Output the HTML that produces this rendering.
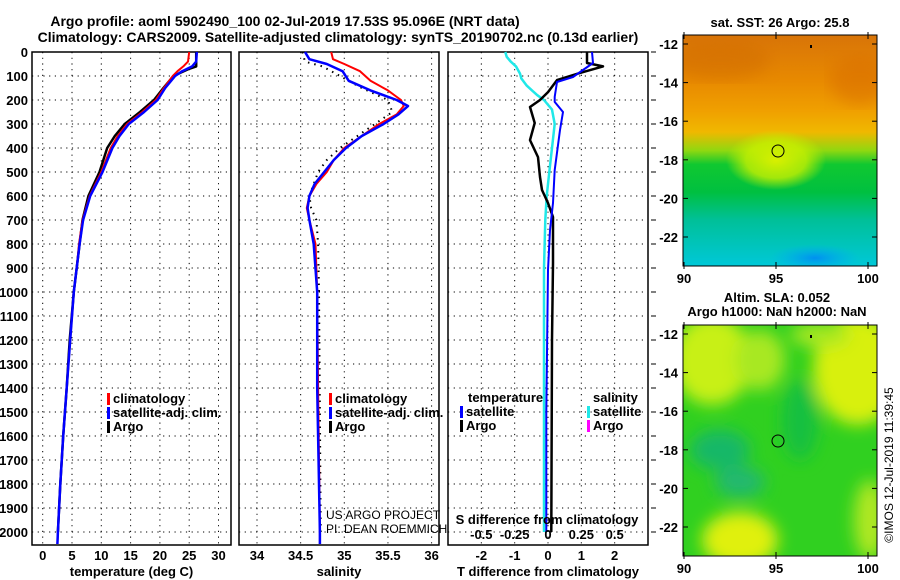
<!DOCTYPE html>
<html><head><meta charset="utf-8"><style>
html,body{margin:0;padding:0;background:#fff;}
svg{display:block;font-family:"Liberation Sans",sans-serif;}
.b{font-weight:bold;font-size:13px;}
.t{font-weight:bold;font-size:14px;}
</style></head><body>
<svg id="c" width="900" height="580" viewBox="0 0 900 580" xmlns="http://www.w3.org/2000/svg">
<defs>
<linearGradient id="sstg" x1="0" y1="0" x2="0" y2="1">
<stop offset="0" stop-color="#d87408"/><stop offset="0.2" stop-color="#e88a00"/><stop offset="0.33" stop-color="#f0a000"/><stop offset="0.42" stop-color="#f0b800"/><stop offset="0.5" stop-color="#90d810"/><stop offset="0.56" stop-color="#10c830"/><stop offset="0.68" stop-color="#00c040"/><stop offset="0.8" stop-color="#00c098"/><stop offset="1" stop-color="#00c8d8"/>
</linearGradient>
<radialGradient id="yel"><stop offset="0" stop-color="#d8f000"/><stop offset="0.6" stop-color="#c8f000" stop-opacity="0.8"/><stop offset="1" stop-color="#c8f000" stop-opacity="0"/></radialGradient>
<radialGradient id="blu"><stop offset="0" stop-color="#0090f0"/><stop offset="1" stop-color="#00b0f0" stop-opacity="0"/></radialGradient>
<filter id="bl"><feGaussianBlur stdDeviation="8"/></filter>
<clipPath id="m1"><rect x="683" y="35" width="194" height="231"/></clipPath>
<clipPath id="m2"><rect x="683" y="325" width="194" height="231"/></clipPath>
</defs>
<text class="t" x="285" y="26" text-anchor="middle">Argo profile: aoml 5902490_100 02-Jul-2019 17.53S 95.096E (NRT data)</text>
<text class="t" x="338" y="42" text-anchor="middle">Climatology: CARS2009. Satellite-adjusted climatology: synTS_20190702.nc (0.13d earlier)</text>
<g id="plots"></g>

<!-- maps -->
<g>
<text class="b" x="780" y="27" text-anchor="middle">sat. SST: 26 Argo: 25.8</text>
<g clip-path="url(#m1)">
<rect x="683" y="35" width="194" height="231" fill="url(#sstg)"/>
<ellipse cx="776" cy="160" rx="50" ry="30" fill="url(#yel)"/>
<ellipse cx="815" cy="258" rx="45" ry="14" fill="url(#blu)"/>
<ellipse cx="720" cy="60" rx="50" ry="20" fill="#d06c00" opacity="0.5" filter="url(#bl)"/>
<ellipse cx="860" cy="80" rx="30" ry="25" fill="#d86c00" opacity="0.5" filter="url(#bl)"/>
</g>
<rect x="683" y="35" width="194" height="231" fill="none" stroke="#000"/>
<circle cx="778" cy="151" r="6" fill="none" stroke="#000"/>
</g>
<g>
<text class="b" x="777" y="302" text-anchor="middle">Altim. SLA: 0.052</text>
<text class="b" x="777" y="316" text-anchor="middle">Argo h1000: NaN h2000: NaN</text>
<g clip-path="url(#m2)">
<rect x="683" y="325" width="194" height="231" fill="#30d020"/>
<g filter="url(#bl)">
<ellipse cx="712" cy="360" rx="40" ry="45" fill="#c8f018"/>
<ellipse cx="760" cy="360" rx="25" ry="30" fill="#a8e820"/>
<ellipse cx="858" cy="370" rx="45" ry="55" fill="#d8f008"/>
<ellipse cx="820" cy="335" rx="30" ry="12" fill="#a8e820"/>
<ellipse cx="740" cy="540" rx="38" ry="28" fill="#e0f010"/>
<ellipse cx="720" cy="450" rx="30" ry="20" fill="#18b868"/>
<ellipse cx="740" cy="482" rx="25" ry="15" fill="#20b870"/>
<ellipse cx="870" cy="520" rx="16" ry="40" fill="#b0e820"/>
<ellipse cx="800" cy="420" rx="18" ry="40" fill="#18c040"/>
</g>
</g>
<rect x="683" y="325" width="194" height="231" fill="none" stroke="#000"/>
<circle cx="778" cy="441" r="6" fill="none" stroke="#000"/>
</g>
<g id="maxes"></g>
<text x="893" y="465" font-size="12" text-anchor="middle" transform="rotate(-90 893 465)">©IMOS 12-Jul-2019 11:39:45</text>
</svg>
<script>
// ---- data ----
const depthTicks=[0,100,200,300,400,500,600,700,800,900,1000,1100,1200,1300,1400,1500,1600,1700,1800,1900,2000];
const tempTicks=[0,5,10,15,20,25,30];
const salTicks=[34,34.5,35,35.5,36];
const tdiffTicks=[-2,-1,0,1,2];
const sdiffTicks=[-0.5,-0.25,0,0.25,0.5];
const sdiffLabels=["-0.5","-0.25","0","0.25","0.5"];
const argoTDepth=[0,60,70,100,150,200,250,300,350,400,500,600,700,800,900,1000,1200,1400,1600,1800,2000];
const argoT=[26.2,26.2,25.0,22.3,20.6,19.0,16.6,14.0,12.3,11.0,9.7,7.8,6.8,6.3,5.8,5.3,4.6,4.1,3.5,3.0,2.6];
const climTDepth=[0,40,60,80,100,150,200,250,300,350,400,500,600,700,800,900,1000,1200,1400,1600,1800,2000,2050];
const climT=[25.0,24.8,24.0,23.0,22.2,20.7,19.3,17.0,14.4,12.8,11.6,10.0,8.0,6.8,6.2,5.8,5.3,4.7,4.1,3.5,3.0,2.6,2.5];
const satT=[26.3,26.2,25.5,23.8,22.6,20.9,19.6,17.3,14.7,13.1,11.9,10.2,8.1,6.9,6.3,5.8,5.3,4.7,4.1,3.5,3.0,2.6,2.5];
const argoSDepth=[0,40,60,100,150,200,250,300,350,400,450,500,600,650,700,800,1000,1500,2000];
const argoS=[34.52,34.55,34.75,34.95,35.2,35.5,35.55,35.35,35.15,34.95,34.8,34.7,34.6,34.62,34.68,34.7,34.71,34.72,34.73];
const climSDepth=[0,30,50,80,120,160,200,225,260,300,350,400,450,500,550,600,650,700,800,1000,1400,2000,2050];
const climS=[34.85,34.87,35.0,35.18,35.3,35.5,35.65,35.68,35.6,35.4,35.2,35.0,34.88,34.8,34.68,34.6,34.57,34.6,34.67,34.69,34.7,34.72,34.72];
const satS=[34.55,34.6,34.8,34.98,35.05,35.3,35.6,35.73,35.62,35.45,35.2,35.02,34.88,34.77,34.66,34.6,34.58,34.6,34.65,34.69,34.69,34.72,34.72];
const tdArgoDepth=[0,46,60,87,117,167,200,229,296,367,438,521,575,629,688,880,1200,2000];
const tdArgo=[1.17,1.17,1.65,0.96,0.27,0.0,-0.24,-0.54,-0.4,-0.54,-0.3,-0.24,-0.18,0.0,0.15,0.15,0.12,0.1];
const tdSatDepth=[0,46,75,104,125,187,208,250,325,492,629,742,908,1500,2000];
const tdSat=[1.32,1.35,1.05,0.75,0.27,0.2,0.2,0.45,0.36,0.2,0.15,0.06,0.0,-0.05,-0.05];
const sdSatDepth=[0,20,40,60,90,110,140,160,180,200,240,300,400,500,600,700,900,2000];
const sdSat=[-0.32,-0.31,-0.28,-0.24,-0.21,-0.2,-0.16,-0.12,-0.08,-0.03,0.03,0.05,0.03,0.01,-0.01,-0.02,-0.03,-0.03];
const latTicks=[-12,-14,-16,-18,-20,-22];
const lonTicks=[90,95,100];

// ---- scales ----
const yD=d=>52+d*0.24;
const xT=t=>42.7+t*5.86;
const xS=s=>257+(s-34)*87.3;
const xD=v=>548+v*33.33;
const xSD=v=>548+v*133.33;
const P1={x0:32,x1:231},P2={x0:239,x1:439},P3={x0:448,x1:648},Y0=52,Y1=545;
const NS="http://www.w3.org/2000/svg";
const root=document.getElementById('plots');
function mk(tag,at,parent){const e=document.createElementNS(NS,tag);for(const k in at)e.setAttribute(k,at[k]);(parent||root).appendChild(e);return e;}

function panel(P,name,ticks,xf,labels,title){
  const g=mk('g',{});
  
  
  depthTicks.forEach(d=>{const l=mk('line',{x1:P.x0,x2:P.x1,y1:yD(d),y2:yD(d),stroke:'#000','stroke-dasharray':'1.2,4.5'},g);
    });
  ticks.forEach((t,i)=>{const x=xf(t);
    const l=mk('line',{x1:x,x2:x,y1:Y0,y2:Y1,stroke:'#000','stroke-dasharray':'1.2,4.5'},g);
    
    if(labels){const tx=mk('text',{x:x,y:560,'text-anchor':'middle',class:'b'},g);tx.textContent=labels[i];
    }});
  const r=mk('rect',{x:P.x0,y:Y0,width:P.x1-P.x0,height:Y1-Y0,fill:'none',stroke:'#000','stroke-width':1.5},g);
  
  const tt=mk('text',{x:(P.x0+P.x1)/2,y:576,'text-anchor':'middle',class:'b'},g);tt.textContent=title;
  
  return g;
}
function line(g,depths,vals,xf,color,w,name,dash){
  const pts=depths.map((d,i)=>xf(vals[i]).toFixed(1)+','+yD(d).toFixed(1)).join(' ');
  const p=mk('polyline',{points:pts,fill:'none',stroke:color,'stroke-width':w,'stroke-linejoin':'round'},g);
  if(dash)p.setAttribute('stroke-dasharray',dash);
  
  
}
function legend(g,x,y,color,label,name){
  const r=mk('rect',{x:x,y:y-10,width:3,height:12,fill:color},g);
  
  const t=mk('text',{x:x+6,y:y,class:'b'},g);t.textContent=label;
  
}
// depth labels
depthTicks.forEach(d=>{const t=mk('text',{x:28,y:yD(d)+5,'text-anchor':'end',class:'b'});t.textContent=d;
  });

const g1=panel(P1,'temperature',tempTicks,xT,tempTicks.map(String),'temperature (deg C)');
line(g1,argoTDepth,argoT,xT,'#000',2.5,'argo-temperature-line');
line(g1,climTDepth,climT,xT,'#f00',2,'climatology-temperature-line');
line(g1,climTDepth,satT,xT,'#00f',2.5,'satellite-temperature-line');
legend(g1,107,403,'#f00','climatology','legend-climatology');
legend(g1,107,417,'#00f','satellite-adj. clim.','legend-satellite');
legend(g1,107,431,'#000','Argo','legend-argo');

const g2=panel(P2,'salinity',salTicks,xS,salTicks.map(String),'salinity');
line(g2,argoSDepth,argoS,xS,'#000',2,'argo-salinity-line','1.5,5');
line(g2,climSDepth,climS,xS,'#f00',2,'climatology-salinity-line');
line(g2,climSDepth,satS,xS,'#00f',2.5,'satellite-salinity-line');
legend(g2,329,403,'#f00','climatology','legend-climatology');
legend(g2,329,417,'#00f','satellite-adj. clim.','legend-satellite');
legend(g2,329,431,'#000','Argo','legend-argo');
[['US ARGO PROJECT',519],['PI: DEAN ROEMMICH',533]].forEach(a=>{const t=mk('text',{x:326,y:a[1],'font-size':'12'},g2);t.textContent=a[0];
  });

const g3=panel(P3,'difference',tdiffTicks,xD,tdiffTicks.map(String),'T difference from climatology');
line(g3,sdSatDepth,sdSat,xSD,'#20e8e8',2.5,'satellite-salinity-diff-line');
line(g3,tdArgoDepth,tdArgo,xD,'#000',2.5,'argo-temperature-diff-line');
line(g3,tdSatDepth,tdSat,xD,'#00f',2,'satellite-temperature-diff-line');
let tl=mk('text',{x:468,y:402,class:'b'},g3);tl.textContent='temperature';

let sl=mk('text',{x:593,y:402,class:'b'},g3);sl.textContent='salinity';

legend(g3,460,416,'#00f','satellite','legend-temp-satellite');
legend(g3,460,430,'#000','Argo','legend-temp-argo');
legend(g3,587,416,'#20e8e8','satellite','legend-sal-satellite');
legend(g3,587,430,'#f0f','Argo','legend-sal-argo');
let st=mk('text',{x:547,y:524,'text-anchor':'middle',class:'b'},g3);st.textContent='S difference from climatology';

sdiffTicks.forEach((v,i)=>{const t=mk('text',{x:xSD(v),y:539,'text-anchor':'middle',class:'b'},g3);t.textContent=sdiffLabels[i];
  });
depthTicks.forEach(d=>{const l=mk('line',{x1:651,x2:656,y1:yD(d),y2:yD(d),stroke:'#000'},g3);
  });

// map axes
const mg=document.getElementById('maxes');
[[35,283],[325,573]].forEach(m=>{
  const top=m[0];
  latTicks.forEach(la=>{const y=top+9+(-12-la)*19.3;
    const t=mk('text',{x:678,y:y+5,'text-anchor':'end',class:'b'},mg);t.textContent=la;
    
    const a=mk('line',{x1:683,x2:688,y1:y,y2:y,stroke:'#000'},mg);
    const b=mk('line',{x1:872,x2:877,y1:y,y2:y,stroke:'#000'},mg);});
  lonTicks.forEach(lo=>{const x=684+(lo-90)*18.4;
    const t=mk('text',{x:x,y:m[1],'text-anchor':'middle',class:'b'},mg);t.textContent=lo;
    
    const a=mk('line',{x1:x,x2:x,y1:top-3,y2:top+4,stroke:'#000'},mg);
    const b=mk('line',{x1:x,x2:x,y1:top+227,y2:top+234,stroke:'#000'},mg);});
  const d=mk('rect',{x:810,y:top+10,width:2,height:3,fill:'#000'},mg);
});
</script>
</body></html>
